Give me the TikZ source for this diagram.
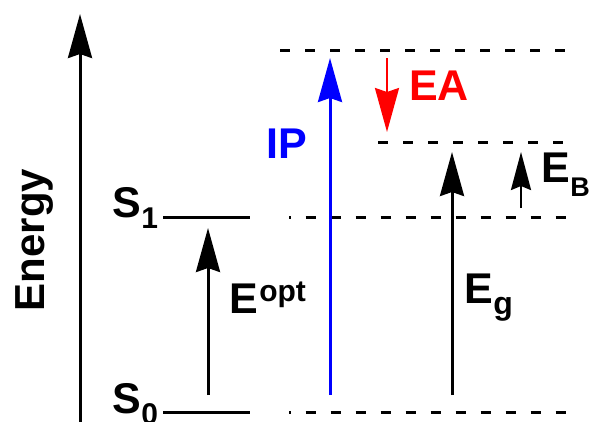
\documentclass[tikz,border=0pt]{standalone}
\usepackage{fontspec}
\setmainfont{Liberation Sans}
\usetikzlibrary{arrows.meta}
\tikzset{
  lbl/.style={font=\fontsize{43}{43}\selectfont\bfseries, inner sep=0pt, anchor=base west},
  sub/.style={font=\fontsize{30}{30}\selectfont\bfseries, inner sep=0pt, anchor=base west},
  level/.style={line width=3pt},
  dlevel/.style={line width=3pt, dash pattern=on 10pt off 15pt},
  bigarrow/.style={line width=3pt, -{Stealth[length=44pt, width=24pt, inset=4pt]}},
  smallarrow/.style={line width=2.4pt, -{Stealth[length=40pt, width=21pt, inset=4pt]}}
}
\definecolor{ipblue}{RGB}{0,0,255}
\definecolor{eared}{RGB}{255,0,0}
\begin{document}
\begin{tikzpicture}[x=1pt, y=-1pt]
\useasboundingbox (0,0) rectangle (592,421);
% coordinates
\coordinate (axb) at (80,425);
\coordinate (axt) at (80,14);
\coordinate (s1a) at (163,217);
\coordinate (s1b) at (250,217);
\coordinate (s0a) at (163,412);
\coordinate (s0b) at (250,412);
\coordinate (topa) at (280,50);
\coordinate (topb) at (565,50);
\coordinate (eaa) at (378,142);
\coordinate (eab) at (565,142);
\coordinate (l1a) at (289,217);
\coordinate (l1b) at (566,217);
\coordinate (l0a) at (289,412);
\coordinate (l0b) at (566,412);
\coordinate (optb) at (208,395);
\coordinate (optt) at (208,228);
\coordinate (ipb) at (330,395);
\coordinate (ipt) at (330,58);
\coordinate (eat) at (387,58);
\coordinate (eah) at (387,132);
\coordinate (egb) at (452,395);
\coordinate (egt) at (452,152);
\coordinate (ebb) at (521,208);
\coordinate (ebt) at (521,152);
% axis
\draw[bigarrow] (axb) -- (axt);
\node[font=\fontsize{42}{42}\selectfont\bfseries, inner sep=0pt, rotate=90, anchor=base] (energy) at (45,240) {Energy};
% levels
\draw[level] (s1a) -- (s1b);
\draw[level] (s0a) -- (s0b);
\draw[dlevel] (topa) -- (topb);
\draw[dlevel] (eaa) -- (eab);
\draw[dlevel, dash phase=8.5pt] (l1a) -- (l1b);
\draw[dlevel, dash phase=8.5pt] (l0a) -- (l0b);
% labels S
\node[lbl] (S1) at (112,217) {S};
\node[sub] (S1s) at (S1.base east) [yshift=-11pt] {1};
\node[lbl] (S0) at (112,413) {S};
\node[sub] (S0s) at (S0.base east) [yshift=-11pt] {0};
% arrows
\draw[bigarrow] (optb) -- (optt);
\draw[bigarrow, ipblue] (ipb) -- (ipt);
\draw[smallarrow, eared, -{Stealth[length=44pt, width=24pt, inset=4pt]}] (eat) -- (eah);
\draw[bigarrow] (egb) -- (egt);
\draw[smallarrow, -{Stealth[length=38pt, width=20pt, inset=4pt]}] (ebb) -- (ebt);
% arrow labels
\node[lbl] (Eopt) at (229,313) {E};
\node[sub] (opt) at (Eopt.base east) [xshift=1pt, yshift=12pt] {opt};
\node[lbl, ipblue] (IP) at (266,158) {IP};
\node[lbl, eared] (EA) at (409,100) {EA};
\node[lbl] (Eg) at (464,303) {E};
\node[sub, font=\fontsize{32}{32}\selectfont\bfseries] (g) at (Eg.base east) [yshift=-11pt] {g};
\node[lbl] (EB) at (541,182) {E};
\node[sub, font=\fontsize{27}{27}\selectfont\bfseries] (B) at (EB.base east) [yshift=-14pt] {B};
\end{tikzpicture}
\end{document}
